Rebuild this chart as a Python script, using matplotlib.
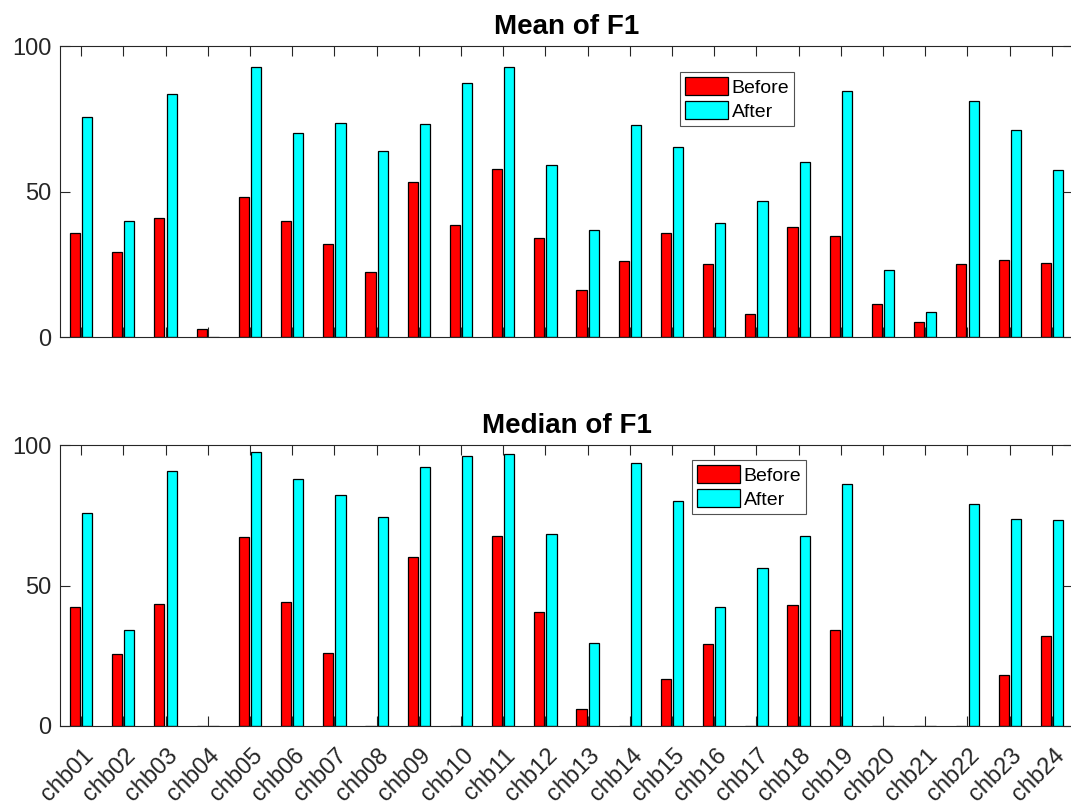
import numpy as np
import matplotlib
matplotlib.use('Agg')
import matplotlib.pyplot as plt
from matplotlib.transforms import ScaledTranslation

# dane
pacjenci = ['chb%02d' % i for i in range(1, 25)]
mean_before = [35.6, 29.1, 40.8, 2.7, 48.2, 39.8, 31.9, 22.3, 53.2, 38.4, 57.6, 33.9,
               16.0, 26.0, 35.6, 25.0, 8.0, 37.7, 34.8, 11.2, 5.0, 25.0, 26.6, 25.3]
mean_after = [75.7, 40.0, 83.4, 0.0, 92.9, 70.0, 73.4, 64.0, 73.3, 87.2, 92.7, 59.2,
              36.7, 73.0, 65.2, 39.3, 46.6, 60.1, 84.5, 22.9, 8.5, 81.0, 71.0, 57.4]
median_before = [42.4, 25.5, 43.5, 0.0, 67.1, 44.0, 26.0, 0.0, 60.2, 0.0, 67.6, 40.7,
                 6.1, 0.0, 16.8, 29.2, 0.0, 42.9, 34.3, 0.0, 0.0, 0.0, 18.3, 32.1]
median_after = [75.7, 34.3, 90.7, 0.0, 97.4, 87.9, 82.3, 74.3, 92.2, 96.2, 96.9, 68.2,
                29.6, 93.7, 79.9, 42.3, 56.4, 67.5, 86.0, 0.0, 0.0, 78.9, 73.6, 73.3]
yticki = [0, 50, 100]

plt.rcParams['font.family'] = ['Liberation Sans', 'DejaVu Sans']
szary = '#262626'


def rysuj_panel(ax, przed, po, tytul, podpisy, leg_xy):
    x = np.arange(1, len(pacjenci) + 1)
    ax.bar(x - 0.145, przed, 0.24, color='#ff0000', edgecolor='black', linewidth=0.9, label='Before')
    ax.bar(x + 0.145, po, 0.24, color='#00ffff', edgecolor='black', linewidth=0.9, label='After')
    ax.set_xlim(0.5, len(pacjenci) + 0.5)
    ax.set_ylim(0, 100)
    ax.set_yticks(yticki)
    ax.set_xticks(x)
    ax.tick_params(direction='in', length=7, width=0.8, color=szary, top=True, right=True,
                   labelsize=17, labelcolor=szary)
    ax.tick_params(axis='y', pad=6)
    for s in ax.spines.values():
        s.set_color(szary)
        s.set_linewidth(0.8)
    ax.set_title(tytul, fontsize=20, fontweight='bold', pad=9)
    if podpisy:
        ax.tick_params(axis='x', pad=19)
        ax.set_xticklabels(pacjenci, rotation=45, ha='right', va='center', rotation_mode='anchor')
        przes = ScaledTranslation(9 / 100, 0, ax.figure.dpi_scale_trans)
        for t in ax.get_xticklabels():
            t.set_transform(t.get_transform() + przes)
    else:
        ax.set_xticklabels([])
    leg = ax.legend(loc='upper left', bbox_to_anchor=leg_xy, bbox_transform=ax.figure.transFigure,
                    fontsize=14, frameon=True, fancybox=False, borderaxespad=0, borderpad=0.25,
                    handlelength=2.2, handleheight=1.05, handletextpad=0.2, labelspacing=0.25)
    leg.get_frame().set_edgecolor(szary)
    leg.get_frame().set_linewidth(0.8)


fig = plt.figure(figsize=(10.71, 8.07), dpi=100)
ax1 = fig.add_axes([60 / 1071, 1 - 337 / 807, 1013 / 1071, 291 / 807])
ax2 = fig.add_axes([60 / 1071, 1 - 726 / 807, 1013 / 1071, 281 / 807])

rysuj_panel(ax1, mean_before, mean_after, 'Mean of F1', False, (680 / 1071, 1 - 72 / 807))
rysuj_panel(ax2, median_before, median_after, 'Median of F1', True, (692 / 1071, 1 - 460 / 807))

fig.savefig('out.png', dpi=100)
